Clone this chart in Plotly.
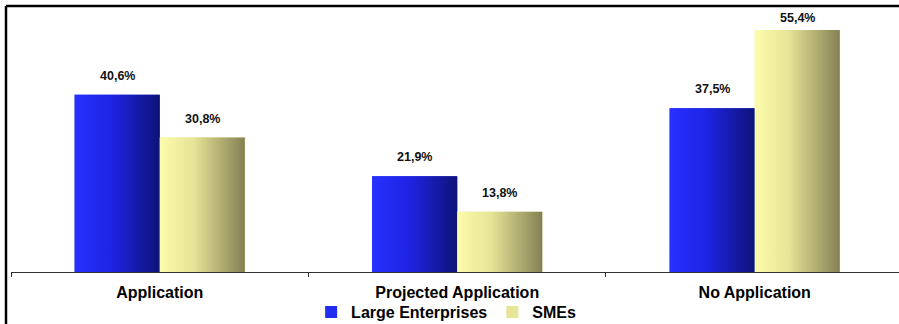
import plotly.graph_objects as go

categories = ["Application", "Projected Application", "No Application"]
large_enterprises = [40.6, 21.9, 37.5]
smes = [30.8, 13.8, 55.4]
series_names = ["Large Enterprises", "SMEs"]

# style
W, H = 899, 324
ML, MR, MT, MB = 11, 0, 10, 52
PLOT_W = W - ML - MR
PLOT_H = H - MT - MB
X_RANGE = [-0.5, 2.485]
Y_MAX = 60.0
BAR_W = 0.286
FONT = "Arial, Liberation Sans, sans-serif"
BLUE_GRAD = [[0, "rgb(38,48,255)"], [0.45, "rgb(30,36,225)"], [1, "rgb(14,18,120)"]]
YEL_GRAD = [[0, "rgb(252,252,172)"], [0.4, "rgb(230,228,150)"], [1, "rgb(132,128,84)"]]
SOLID = ["rgb(35,45,240)", "rgb(230,228,150)"]

fig = go.Figure()

series_vals = [large_enterprises, smes]
offsets = [-BAR_W, 0.0]
grads = [BLUE_GRAD, YEL_GRAD]

for name, vals, off, col in zip(series_names, series_vals, offsets, SOLID):
    fig.add_trace(go.Bar(
        x=categories, y=vals, name=name, width=BAR_W, offset=off,
        marker=dict(color=col, line=dict(width=0)), hoverinfo="skip",
    ))

# gradient overlays built from the same values on an overlaid numeric axis
for vals, off, grad in zip(series_vals, offsets, grads):
    for i, v in enumerate(vals):
        x0, x1 = i + off, i + off + BAR_W
        fig.add_trace(go.Scatter(
            x=[x0, x1, x1, x0, x0], y=[0, 0, v, v, 0], xaxis="x2",
            mode="lines", line=dict(width=0), fill="toself",
            fillgradient=dict(type="horizontal", colorscale=grad),
            showlegend=False, hoverinfo="skip",
        ))

ppu = PLOT_H / Y_MAX
for vals, off in zip(series_vals, offsets):
    for cat, v in zip(categories, vals):
        lift = min(20, (Y_MAX - v) * ppu - 7)
        fig.add_annotation(
            x=cat, y=v, xref="x", yref="y",
            text=f"{v:.1f}%".replace(".", ","),
            showarrow=False, yanchor="middle",
            xshift=(off + BAR_W / 2) * PLOT_W / (X_RANGE[1] - X_RANGE[0]),
            yshift=lift - 1,
            font=dict(family=FONT, size=12.5, color="#111", weight="bold"),
        )

# frame lines (top and left)
fx = (6 - ML) / PLOT_W
fy = (PLOT_H + MT - 6) / PLOT_H
fig.add_shape(type="line", xref="paper", yref="paper", x0=fx, x1=1.01, y0=fy, y1=fy,
              line=dict(color="black", width=2.5), layer="above")
fig.add_shape(type="line", xref="paper", yref="paper", x0=fx, x1=fx, y0=fy, y1=-0.3,
              line=dict(color="black", width=2.5), layer="above")

fig.update_layout(
    width=W, height=H,
    margin=dict(l=ML, r=MR, t=MT, b=MB, pad=0, autoexpand=False),
    paper_bgcolor="white", plot_bgcolor="white",
    barmode="overlay",
    showlegend=True,
    hovermode=False,
    font=dict(family=FONT, color="black"),
    xaxis=dict(
        range=X_RANGE, type="category", showline=True, linecolor="#333", linewidth=1,
        ticks="outside", tickson="boundaries", ticklen=4, tickcolor="#333",
        showgrid=False, zeroline=False, ticklabelstandoff=6, automargin=False,
        tickfont=dict(family=FONT, size=16, color="black", weight="bold"),
    ),
    xaxis2=dict(range=X_RANGE, overlaying="x", visible=False, showgrid=False),
    yaxis=dict(range=[0, Y_MAX], visible=False, showgrid=False, zeroline=False),
    legend=dict(
        orientation="h", x=0.49, xanchor="center", y=-0.153, yanchor="middle",
        font=dict(family=FONT, size=16, color="black", weight="bold"),
        itemwidth=30, bgcolor="rgba(0,0,0,0)", tracegroupgap=0,
    ),
)

fig.write_html("out.html")
